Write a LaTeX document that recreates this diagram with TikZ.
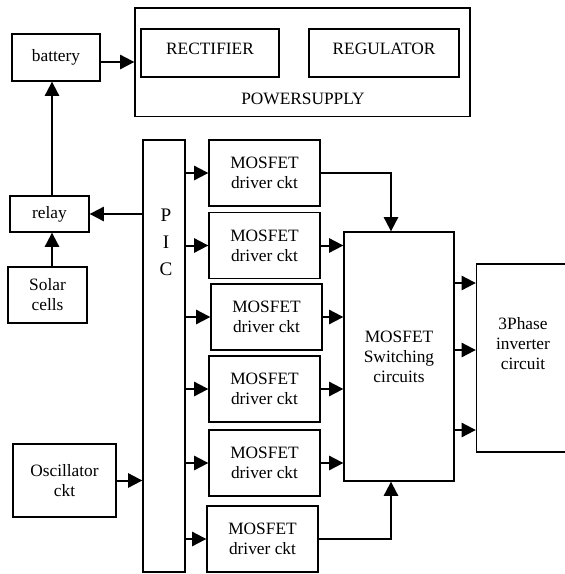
\documentclass[tikz,border=0pt]{standalone}
\usepackage{fontspec}
\setmainfont{Liberation Serif}
\usetikzlibrary{arrows.meta,positioning}
\tikzset{
  blk/.style={draw, line width=0.8pt, align=center, inner sep=0pt},
  drv/.style={blk, minimum width=66.6pt, minimum height=39.6pt},
  flow/.style={line width=1.2pt, -{Triangle[length=8.5pt,width=8.5pt]}}
}

\begin{document}
\begin{tikzpicture}[x=0.6pt, y=-0.6pt, font=\rmfamily\fontsize{10.4}{12}\selectfont]
\useasboundingbox (0,0) rectangle (565,574);
% power supply
\node (ps) at (302.5,62) [blk, minimum width=201pt, minimum height=65pt] {};
\node (rect) at (210,53) [blk, minimum width=82.8pt, minimum height=28.8pt, text depth=5.4pt] {RECTIFIER};
\node (reg) at (384,53) [blk, minimum width=90pt, minimum height=28.8pt, text depth=5.4pt] {REGULATOR};
\node (pstext) at (303,99) {POWERSUPPLY};
% left column
\node (bat) at (56,57.5) [blk, minimum width=52.8pt, minimum height=28.2pt] {battery};
\node (relay) at (49.5,214) [blk, minimum width=47.4pt, minimum height=21.6pt] {relay};
\node (solar) at (47.5,295) [blk, minimum width=47.4pt, minimum height=33.6pt] {Solar\\cells};
\node (osc) at (64.5,480.5) [blk, minimum width=61.8pt, minimum height=43.8pt] {Oscillator\\ckt};
% controller
\node (pic) at (164,356) [blk, minimum width=25.2pt, minimum height=259.2pt] {};
\node (pictext) at (166,242) [align=center, font=\rmfamily\fontsize{11.5}{16.2}\selectfont] {P\\I\\C};
% drivers
\node (d1) at (264.5,173) [drv] {MOSFET\\driver ckt};
\node (d2) at (264.5,245.5) [drv] {MOSFET\\driver ckt};
\node (d3) at (266.5,317) [drv] {MOSFET\\driver ckt};
\node (d4) at (264.5,389) [drv] {MOSFET\\driver ckt};
\node (d5) at (264.5,463) [drv] {MOSFET\\driver ckt};
\node (d6) at (262.5,539) [drv] {MOSFET\\driver ckt};
% switching and inverter
\node (sw) at (399,356.5) [blk, minimum width=66pt, minimum height=149.4pt] {MOSFET\\Switching\\circuits};
\node (inv) at (523,358) [blk, minimum width=55.8pt, minimum height=112.8pt,
  label={[align=center, yshift=8.4pt]center:3Phase\\inverter\\circuit}] {};
% connections
\draw[flow] ([yshift=-2.7pt]bat.east) -- ([yshift=-2.7pt]bat.east -| ps.west);
\draw[flow] (52,0 |- relay.north) -- (52,0 |- bat.south);
\draw[flow] (52,0 |- solar.north) -- (52,0 |- relay.south);
\draw[flow] (pic.west |- relay) -- (relay.east);
\draw[flow] (osc.east) -- (osc.east -| pic.west);
\foreach \d in {d1,d2,d3,d4,d5,d6}
  \draw[flow] (pic.east |- \d) -- (\d.west);
\draw[flow] (d1.east) -| ([xshift=-4.8pt]sw.north);
\foreach \d in {d2,d3,d4,d5}
  \draw[flow] (\d.east) -- (\d.east -| sw.west);
\draw[flow] (d6.east) -| ([xshift=-4.8pt]sw.south);
\foreach \y in {283,350,430}
  \draw[flow] (sw.east |- 0,\y) -- (inv.west |- 0,\y);
\end{tikzpicture}
\end{document}
